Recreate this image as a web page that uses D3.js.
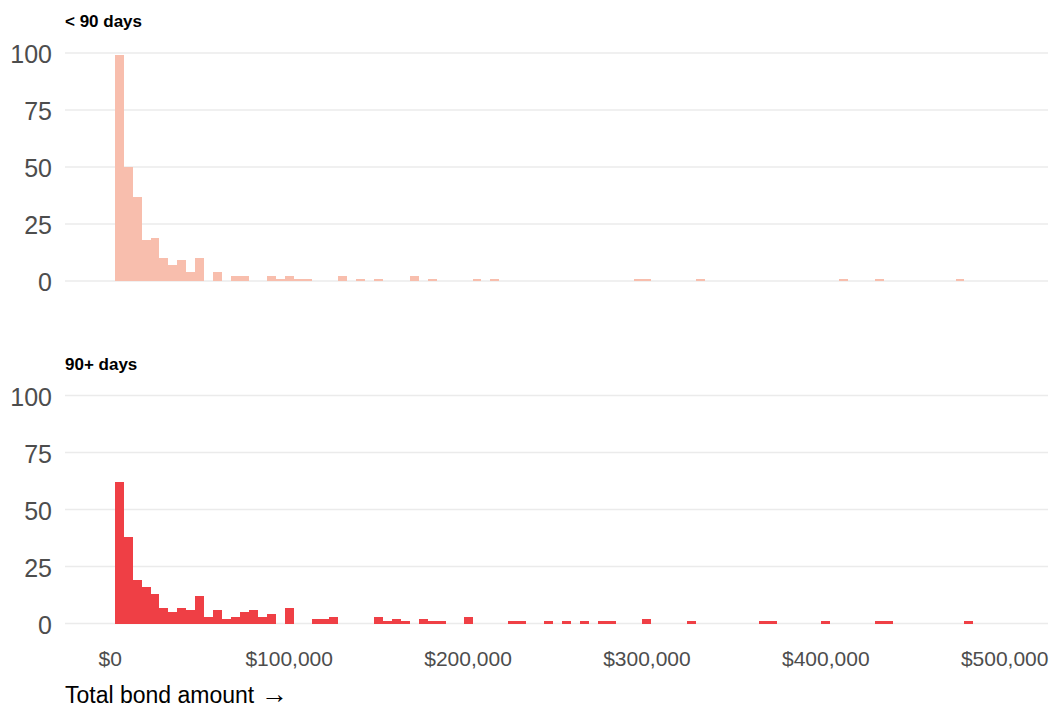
<!DOCTYPE html>
<html>
<head>
<meta charset="utf-8">
<script src="https://cdn.jsdelivr.net/npm/d3@7"></script>
<style>
  html, body { margin: 0; padding: 0; background: #fff; }
  svg { display: block; font-family: "Liberation Sans", Arial, Helvetica, sans-serif; }
</style>
</head>
<body>
<svg id="chart" width="1054" height="709"></svg>
<script>
// ---- data (histogram: bins of $5,000 width, first bin starts at $2,500) ----
const binWidth = 5000;
const firstBinStart = 2500;
const panelTitles = ["< 90 days", "90+ days"];
const countsUnder90 = [
  99, 50, 37, 18, 19, 10, 7, 9, 4, 10,
  0, 4, 0, 2, 2, 0, 0, 2, 1, 2,
  1, 1, 0, 0, 0, 2, 0, 1, 0, 1,
  0, 0, 0, 2, 0, 1, 0, 0, 0, 0,
  1, 0, 1, 0, 0, 0, 0, 0, 0, 0,
  0, 0, 0, 0, 0, 0, 0, 0, 1, 1,
  0, 0, 0, 0, 0, 1, 0, 0, 0, 0,
  0, 0, 0, 0, 0, 0, 0, 0, 0, 0,
  0, 1, 0, 0, 0, 1, 0, 0, 0, 0,
  0, 0, 0, 0, 1, 0, 0, 0, 0, 0
];
const counts90Plus = [
  62, 38, 19, 16, 13, 7, 5, 7, 6, 12,
  3, 6, 2, 3, 5, 6, 3, 4, 0, 7,
  0, 0, 2, 2, 3, 0, 0, 0, 0, 3,
  1, 2, 1, 0, 2, 1, 1, 0, 0, 3,
  0, 0, 0, 0, 1, 1, 0, 0, 1, 0,
  1, 0, 1, 0, 1, 1, 0, 0, 0, 2,
  0, 0, 0, 0, 1, 0, 0, 0, 0, 0,
  0, 0, 1, 1, 0, 0, 0, 0, 0, 1,
  0, 0, 0, 0, 0, 1, 1, 0, 0, 0,
  0, 0, 0, 0, 0, 1, 0, 0, 0, 0
];
const yTicks = [0, 25, 50, 75, 100];
const xTicks = [0, 100000, 200000, 300000, 400000, 500000];
const xTitle = "Total bond amount";
const xTitleArrow = "\u2192";
const panelColors = ["#f8bead", "#ef3f45"];

// ---- layout ----
const svg = d3.select("#chart");
const gridLeft = 65, gridRight = 1048;
const x = d3.scaleLinear().domain([0, 500000]).range([110.3, 1004.7]);

const panels = [
  { title: panelTitles[0], counts: countsUnder90, color: panelColors[0], y0: 281, y100: 53, titleY: 27 },
  { title: panelTitles[1], counts: counts90Plus, color: panelColors[1], y0: 623.5, y100: 395.5, titleY: 370 }
];

panels.forEach(p => {
  const y = d3.scaleLinear().domain([0, 100]).range([p.y0, p.y100]);
  const g = svg.append("g");

  // gridlines
  g.selectAll("line.grid").data(yTicks).join("line")
    .attr("x1", gridLeft).attr("x2", gridRight)
    .attr("y1", d => y(d)).attr("y2", d => y(d))
    .attr("stroke", "#ebebeb").attr("stroke-width", 1.4);

  // y tick labels
  g.selectAll("text.ytick").data(yTicks).join("text")
    .attr("x", 52).attr("y", d => y(d) + 1)
    .attr("text-anchor", "end").attr("dominant-baseline", "central")
    .attr("font-size", 25).attr("fill", "#4d4d4d")
    .text(d => d);

  // bars
  const bins = p.counts.map((c, i) => ({ x0: firstBinStart + i * binWidth, x1: firstBinStart + (i + 1) * binWidth, c }))
    .filter(b => b.c > 0);
  g.selectAll("rect.bar").data(bins).join("rect")
    .attr("x", b => x(b.x0))
    .attr("width", b => x(b.x1) - x(b.x0))
    .attr("y", b => y(b.c))
    .attr("height", b => y(0) - y(b.c))
    .attr("fill", p.color)
    .attr("shape-rendering", "crispEdges");

  // panel title
  g.append("text")
    .attr("x", 65).attr("y", p.titleY)
    .attr("font-size", 17).attr("font-weight", "bold").attr("fill", "#000")
    .text(p.title);
});

// x tick labels
const fmt = d3.format("$,");
svg.append("g").selectAll("text").data(xTicks).join("text")
  .attr("x", d => x(d)).attr("y", 666)
  .attr("text-anchor", "middle")
  .attr("font-size", 21).attr("fill", "#4d4d4d")
  .text(d => fmt(d));

// x axis title
const title = svg.append("text")
  .attr("x", 65).attr("y", 703)
  .attr("font-size", 23).attr("fill", "#000");
title.append("tspan").text(xTitle + " ");
title.append("tspan").attr("font-size", 27).text(xTitleArrow);
</script>
</body>
</html>
